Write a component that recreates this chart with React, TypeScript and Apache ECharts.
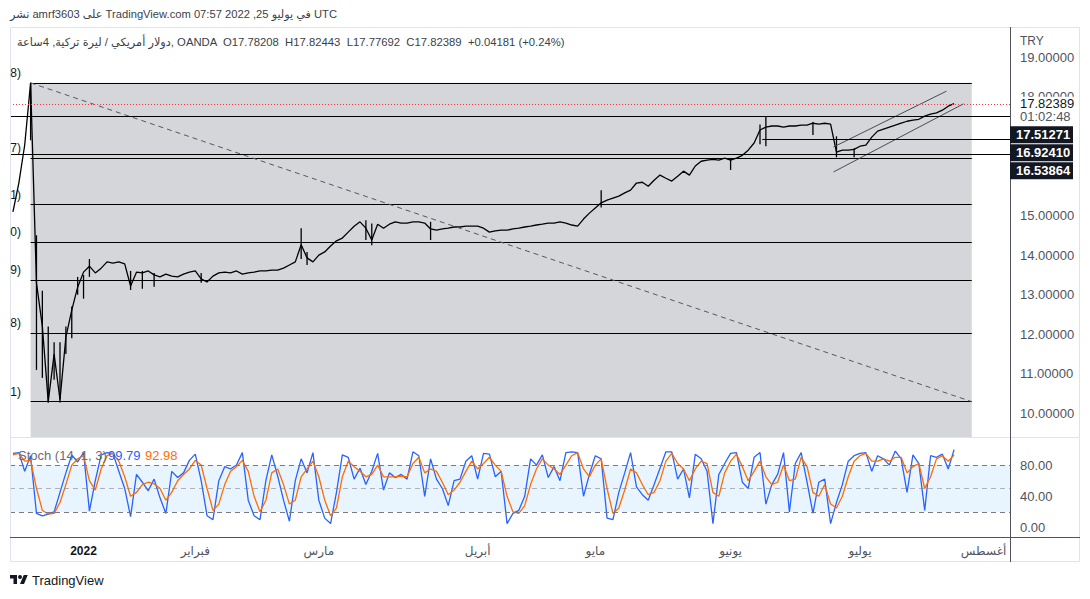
import React, { useEffect, useRef } from 'react';
import * as echarts from 'echarts';

// ---------- data ----------
const closes = [
  15.09, 15.82, 16.78, 18.35, 13.3, 12.2, 10.3, 11.5, 10.35, 11.93,
  12.61, 13.19, 13.57, 13.72, 13.55, 13.67, 13.83, 13.8, 13.83, 13.78,
  13.22, 13.57, 13.55, 13.6, 13.5, 13.45, 13.52, 13.47, 13.45, 13.52,
  13.57, 13.6, 13.4, 13.32, 13.47, 13.55, 13.57, 13.55, 13.6, 13.52,
  13.55, 13.57, 13.6, 13.6, 13.62, 13.62, 13.67, 13.75, 13.83, 14.26,
  13.93, 13.83, 14.0, 14.08, 14.23, 14.36, 14.43, 14.58, 14.73, 14.84,
  14.68, 14.38, 14.78, 14.68, 14.78, 14.84, 14.81, 14.81, 14.84, 14.84,
  14.81, 14.66, 14.63, 14.66, 14.68, 14.71, 14.71, 14.73, 14.73, 14.73,
  14.68, 14.58, 14.61, 14.63, 14.63, 14.66, 14.68, 14.71, 14.73, 14.76,
  14.78, 14.81, 14.81, 14.84, 14.81, 14.76, 14.73, 14.91, 15.06, 15.19,
  15.32, 15.39, 15.44, 15.49, 15.57, 15.64, 15.82, 15.84, 15.74, 15.89,
  16.02, 15.94, 15.87, 15.99, 16.12, 16.02, 16.25, 16.37, 16.4, 16.42,
  16.4, 16.45, 16.4, 16.45, 16.52, 16.65, 16.83, 17.16, 17.23, 17.26,
  17.26, 17.23, 17.26, 17.26, 17.28, 17.28, 17.33, 17.31, 17.33, 17.31,
  16.6, 16.65, 16.65, 16.67, 16.75, 16.78, 16.98, 17.13, 17.18, 17.23,
  17.28, 17.33, 17.38, 17.41, 17.43, 17.51, 17.56, 17.59, 17.66, 17.76, 17.82389,
];

// bars with a visible high-low range: [bar index, low, high]
const barRanges = [
  [3, 16.9, 18.35], [4, 11.1, 14.5], [5, 10.9, 13.1], [6, 10.27, 12.2], [7, 10.85, 11.8],
  [8, 10.28, 11.8], [9, 11.5, 12.2], [10, 11.9, 12.7], [11, 13.0, 13.45], [12, 12.9, 13.5],
  [13, 13.45, 13.9], [20, 13.12, 13.6], [22, 13.15, 13.6], [24, 13.2, 13.55], [32, 13.3, 13.55],
  [49, 13.9, 14.68], [50, 13.75, 14.08], [60, 14.38, 14.88], [61, 14.25, 14.8], [71, 14.38, 14.84],
  [100, 15.2, 15.64], [122, 16.15, 16.45], [127, 16.8, 17.3], [128, 16.75, 17.51], [136, 17.03, 17.36],
  [140, 16.47, 17.0], [143, 16.47, 16.7],
];

const stochK = [
  95, 96, 72, 92, 18, 15, 17, 20, 45, 70, 93, 84, 96, 21, 60, 93, 96, 95, 72, 50,
  14, 68, 58, 47, 62, 38, 18, 72, 64, 70, 86, 94, 60, 15, 10, 60, 78, 75, 80, 96,
  35, 15,
  10, 60, 93, 66, 35, 8, 60, 88, 70, 96, 35, 12, 5, 45, 93, 90, 62, 76, 55, 72,
  95, 48, 70, 64, 68, 62, 97, 92, 40, 88, 62, 50, 28, 60, 62, 85, 92, 62, 95, 94,
  65, 72, 5,
  18, 22, 40, 88, 80, 93, 64, 78, 60, 96, 97, 96, 40, 68, 92, 88, 12, 10, 45, 70,
  96, 52, 42, 35, 55, 76, 97, 97, 62, 75, 38, 94, 88, 72, 5, 68, 82, 95, 96, 58,
  50, 90,
  96, 30, 55, 68, 96, 20, 82, 96, 58, 18, 58, 62, 5, 32, 55, 85, 92, 95, 96, 72,
  92, 88, 80, 98, 88, 45, 93, 82, 22, 92, 90, 94, 75, 99.79,
];

const stochD = [
  93, 95, 85, 86, 50, 22, 17, 18, 32, 55, 80, 88, 92, 60, 48, 75, 92, 95, 85, 65,
  40, 45, 55, 58, 56, 50, 35, 45, 60, 68, 75, 86, 80, 50, 22, 30, 55, 72, 78, 86,
  72, 40,
  20, 35, 70, 75, 55, 30, 35, 65, 75, 85, 65, 35, 15, 25, 65, 85, 78, 72, 65, 68,
  80, 65, 65, 65, 66, 65, 82, 90, 70, 75, 72, 58, 42, 48, 58, 72, 85, 75, 82, 90,
  80, 72, 40,
  20, 18, 28, 55, 75, 88, 80, 75, 68, 80, 92, 96, 75, 65, 80, 88, 50, 18, 25, 48,
  75, 70, 55, 42, 45, 60, 85, 95, 82, 75, 60, 75, 85, 82, 45, 40, 70, 85, 94, 78,
  60, 72,
  85, 65, 55, 58, 80, 60, 62, 90, 78, 45, 40, 55, 30, 25, 40, 65, 85, 92, 95, 85,
  85, 88, 85, 90, 90, 70, 78, 82, 50, 65, 88, 92, 85, 92.98,
];

const monthTickIndex = [12, 31, 52, 79, 99, 122, 144, 165];
const monthLabels = ['2022', 'فبراير', 'مارس', 'أبريل', 'مايو', 'يونيو', 'يوليو', 'أغسطس'];
const priceTicks = [10, 11, 12, 13, 14, 15, 18, 19];
const stochTicks = [0, 40, 80];
const stochBandLevels = [80, 50, 20];

// drawings (in data coordinates: bar index, price)
const fibHigh = 18.35;
const fibLow = 10.3;
const fibRatios = [0, 0.236, 0.382, 0.5, 0.618, 0.786, 1];
const fibLabelTails = ['8)', '7)', '1)', '0)', '9)', '8)', '1)'];
const fibStartIdx = 3;
const fibEndIdx = 163;
const lastPrice = 17.82389;
const countdown = '01:02:48';
const fullLines = [17.51271, 16.53864];
const rayLine = { price: 16.9241, from: 127.4 };
const tagPrices = [17.51271, 16.9241, 16.53864];
const channelLower = [[139.5, 16.1], [161.6, 17.82]];
const channelUpper = [[139.5, 16.73], [158.7, 18.14]];

const headerText = 'نشر amrf3603 على TradingView.com في يوليو 25, 2022 07:57 UTC';
const legendText = 'دولار أمريكي / ليرة تركية, 4ساعة, OANDA  O17.78208  H17.82443  L17.77692  C17.82389  +0.04181 (+0.24%)';

// ---------- layout ----------
const X_MIN = -0.5;
const X_MAX = 169.5;
const MAIN_Y_MIN = 9.407;
const MAIN_Y_MAX = 19.76;
const ST_Y_MIN = -12.2;
const ST_Y_MAX = 116;
const FONT = '"Liberation Sans", "DejaVu Sans", sans-serif';

const logoShape = echarts.graphic.extendPath(
  'M14 22H7V11H0V4h14v18zM28 22h-8l7.5-18h8L28 22zM16 8a4 4 0 1 0 8 0a4 4 0 1 0 -8 0z',
  {}
);
echarts.graphic.registerShape('tvlogo', logoShape);

export default function App() {
  const ref = useRef<HTMLDivElement>(null);
  useEffect(() => {
    document.body.style.margin = '0';
    const el = ref.current!;
    const chart = echarts.init(el, null, { renderer: 'svg' });

    const fibLines = fibRatios.map((r) => {
      const p = fibHigh - r * (fibHigh - fibLow);
      return [
        { coord: [fibStartIdx, p], lineStyle: { color: '#000', width: 1, type: 'solid' } },
        { coord: [fibEndIdx, p] },
      ];
    });

    const option: any = {
      animation: false,
      backgroundColor: '#ffffff',
      grid: [
        { left: 10, right: 80, top: 27, height: 410 },
        { left: 10, right: 80, top: 437, height: 100 },
      ],
      xAxis: [
        {
          type: 'value', gridIndex: 0, min: X_MIN, max: X_MAX,
          axisLine: { show: false }, axisTick: { show: false }, axisLabel: { show: false }, splitLine: { show: false },
        },
        {
          type: 'value', gridIndex: 1, min: X_MIN, max: X_MAX,
          axisLine: { show: false }, axisTick: { show: false }, splitLine: { show: false },
          axisLabel: {
            customValues: monthTickIndex,
            margin: 8,
            color: '#50535e',
            fontSize: 12,
            fontFamily: FONT,
            formatter: (v: number) => {
              const k = monthTickIndex.indexOf(v);
              if (k < 0) return '';
              return k === 0 ? '{b|' + monthLabels[k] + '}' : monthLabels[k];
            },
            rich: { b: { fontWeight: 'bold', color: '#131722', fontSize: 12, fontFamily: FONT } },
          },
        },
      ],
      yAxis: [
        {
          type: 'value', gridIndex: 0, position: 'right', min: MAIN_Y_MIN, max: MAIN_Y_MAX,
          axisLine: { show: false }, axisTick: { show: false }, splitLine: { show: false },
          axisLabel: {
            customValues: priceTicks, margin: 10, color: '#50535e', fontSize: 13, fontFamily: FONT,
            formatter: (v: number) => v.toFixed(5),
          },
        },
        {
          type: 'value', gridIndex: 1, position: 'right', min: ST_Y_MIN, max: ST_Y_MAX,
          axisLine: { show: false }, axisTick: { show: false }, splitLine: { show: false },
          axisLabel: {
            customValues: stochTicks, margin: 10, color: '#50535e', fontSize: 13, fontFamily: FONT,
            formatter: (v: number) => v.toFixed(2),
          },
        },
      ],
      series: [
        {
          type: 'line', xAxisIndex: 0, yAxisIndex: 0, data: [], z: 1, silent: true,
          markArea: {
            silent: true,
            itemStyle: { color: '#d5d6da' },
            data: [[{ coord: [fibStartIdx, fibHigh] }, { coord: [fibEndIdx, MAIN_Y_MIN] }]],
          },
        },
        {
          type: 'line', xAxisIndex: 0, yAxisIndex: 0, z: 2, silent: true,
          data: closes.map((v, i) => [i, v]),
          symbol: 'none',
          lineStyle: { color: '#000000', width: 1.3 },
          markLine: {
            silent: true, symbol: ['none', 'none'], label: { show: false },
            lineStyle: { color: '#000', width: 1, type: 'solid' },
            data: [
              ...fibLines,
              [
                { coord: [fibStartIdx, fibHigh], lineStyle: { color: '#555861', width: 1, type: [5, 4] } },
                { coord: [fibEndIdx, fibLow] },
              ],
              [{ coord: channelLower[0], lineStyle: { color: '#4a4c54', width: 1, type: 'solid' } }, { coord: channelLower[1] }],
              [{ coord: channelUpper[0], lineStyle: { color: '#4a4c54', width: 1, type: 'solid' } }, { coord: channelUpper[1] }],
              ...fullLines.map((p) => ({ yAxis: p, lineStyle: { color: '#000', width: 1, type: 'solid' } })),
              [
                { coord: [rayLine.from, rayLine.price], lineStyle: { color: '#000', width: 1, type: 'solid' } },
                { coord: [X_MAX, rayLine.price] },
              ],
              { yAxis: lastPrice, lineStyle: { color: '#f23645', width: 1, type: [1, 2] } },
            ],
          },
        },
        {
          type: 'custom', xAxisIndex: 0, yAxisIndex: 0, z: 2, silent: true,
          data: barRanges,
          renderItem: (_params: any, api: any) => {
            const a = api.coord([api.value(0), api.value(1)]);
            const b = api.coord([api.value(0), api.value(2)]);
            return {
              type: 'line',
              shape: { x1: a[0], y1: a[1], x2: b[0], y2: b[1] },
              style: { stroke: '#000', lineWidth: 1.3 },
            };
          },
        },
        {
          type: 'line', xAxisIndex: 1, yAxisIndex: 1, z: 3, silent: true,
          data: stochK.map((v, i) => [i, v]),
          symbol: 'none',
          lineStyle: { color: '#2962ff', width: 1.3 },
          markArea: {
            silent: true,
            itemStyle: { color: 'rgba(33,150,243,0.1)' },
            data: [[{ yAxis: 20 }, { yAxis: 80 }]],
          },
          markLine: {
            silent: true, symbol: ['none', 'none'], label: { show: false },
            data: stochBandLevels.map((lv) => ({
              yAxis: lv,
              lineStyle: { color: lv === 50 ? 'rgba(120,123,134,0.55)' : '#787b86', width: 1, type: [5, 4] },
            })),
          },
        },
        {
          type: 'line', xAxisIndex: 1, yAxisIndex: 1, z: 4, silent: true,
          data: stochD.map((v, i) => [i, v]),
          symbol: 'none',
          lineStyle: { color: '#ff6d00', width: 1.3 },
        },
      ],
    };

    chart.setOption(option);

    const py = (p: number) => (chart.convertToPixel({ gridIndex: 0 }, [0, p]) as number[])[1];

    const g: any[] = [];
    const txt = (x: number, y: number, text: string, extra: any = {}) => ({
      type: 'text', x, y, z: 100,
      style: {
        text, fill: '#131722', fontSize: 12, fontFamily: FONT, align: 'left', verticalAlign: 'middle', ...extra,
      },
    });

    // frame and separators
    g.push({ type: 'rect', z: 90, shape: { x: 10.5, y: 27.5, width: 1069, height: 534 }, style: { fill: 'none', stroke: '#e0e3eb', lineWidth: 1 } });
    g.push({ type: 'line', z: 91, shape: { x1: 10, y1: 437.5, x2: 1080, y2: 437.5 }, style: { stroke: '#e0e3eb', lineWidth: 1 } });
    g.push({ type: 'line', z: 91, shape: { x1: 10, y1: 537.5, x2: 1080, y2: 537.5 }, style: { stroke: '#50535e', lineWidth: 1 } });
    g.push({ type: 'line', z: 91, shape: { x1: 1010.5, y1: 27, x2: 1010.5, y2: 562 }, style: { stroke: '#50535e', lineWidth: 1 } });

    // header + legend
    g.push(txt(10, 14, headerText, { fill: '#3c3f48', fontSize: 11.2 }));
    g.push(txt(17, 42, legendText, { fill: '#3c3f48', fontSize: 11.3 }));
    g.push(txt(1020, 41, 'TRY', { fill: '#50535e', fontSize: 12 }));

    // fib label tails (clipped at the pane edge)
    fibRatios.forEach((r, k) => {
      const p = fibHigh - r * (fibHigh - fibLow);
      g.push(txt(21, py(p) - 10, fibLabelTails[k], { align: 'right', fill: '#131722', fontSize: 12 }));
    });

    // price scale tags
    const yLast = py(lastPrice);
    g.push({ type: 'rect', z: 95, shape: { x: 1011, y: yLast - 7, width: 66, height: 14 }, style: { fill: '#ffffff' } });
    g.push(txt(1020, yLast, lastPrice.toFixed(5), { fill: '#131722', fontSize: 13 }));
    g.push(txt(1020, yLast + 13, countdown, { fill: '#50535e', fontSize: 13 }));
    let prev = yLast + 13;
    tagPrices.forEach((p) => {
      const c = Math.max(py(p), prev + 18);
      prev = c;
      g.push({ type: 'rect', z: 96, shape: { x: 1010, y: c - 8.5, width: 63, height: 17 }, style: { fill: '#131722' } });
      g.push(txt(1016, c, p.toFixed(5), { fill: '#ffffff', fontSize: 13, fontWeight: 'bold' }));
    });

    // stoch legend
    g.push(txt(18, 455, 'Stoch (14, 1, 3)', { fill: '#6a6d78', fontSize: 13 }));
    g.push(txt(108, 455, stochK[stochK.length - 1].toFixed(2), { fill: '#2962ff', fontSize: 13 }));
    g.push(txt(145, 455, stochD[stochD.length - 1].toFixed(2), { fill: '#ff6d00', fontSize: 13 }));

    // logo
    g.push({ type: 'tvlogo', x: 10, y: 573, scaleX: 0.5, scaleY: 0.5, z: 100, style: { fill: '#131722' } });
    g.push(txt(32, 580, 'TradingView', { fill: '#131722', fontSize: 13 }));

    chart.setOption({ graphic: g });

    return () => chart.dispose();
  }, []);
  return <div ref={ref} style={{ width: 1090, height: 599 }} />;
}
